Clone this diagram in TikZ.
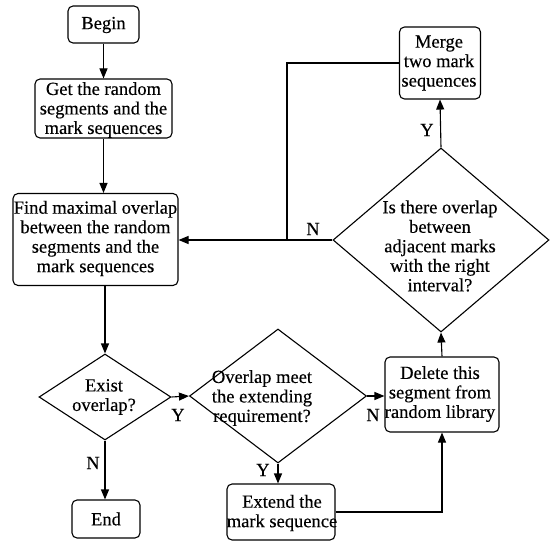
\documentclass[tikz,border=0pt]{standalone}
\usepackage{fontspec}
\setmainfont{Liberation Serif}
\newfontfamily\heavyserif[FakeBold=0.35]{Liberation Serif}
\usetikzlibrary{shapes.geometric,arrows.meta}
\newcommand\myfs{\heavyserif\fontsize{18.5}{19.5}\selectfont}
\begin{document}
\begin{tikzpicture}[x=1pt,y=-1pt,
  box/.style={draw,rounded corners=5pt,inner sep=0pt,line width=1.1pt},
  dia/.style={draw,diamond,inner sep=0pt,line width=1.1pt},
  txt/.style={align=center,inner sep=0pt,font=\myfs},
  arr/.style={-{Triangle[length=10pt,width=8pt]},line width=1.1pt},
  ln/.style={line width=1.1pt},
  lab/.style={font=\myfs,inner sep=0pt}]
\useasboundingbox (0,0) rectangle (558,543);
% boxes
\node[box,minimum width=71pt,minimum height=37pt] (begin) at (103.5,24.5) {};
\node[txt] (begin-t) at (103.5,25) {Begin};
\node[box,minimum width=137pt,minimum height=59pt] (get) at (103.5,108.5) {};
\node[txt] (get-t) at (103.5,110) {Get the random\\segments and the\\mark sequences};
\node[box,minimum width=165pt,minimum height=92pt] (find) at (95.5,239.5) {};
\node[txt] (find-t) at (95.5,238.5) {Find maximal overlap\\between the random\\segments and the\\mark sequences};
\node[dia,minimum width=132pt,minimum height=86pt] (exist) at (105,397) {};
\node[txt] (exist-t) at (104,397) {Exist\\overlap?};
\node[box,minimum width=68pt,minimum height=38pt] (endn) at (106,519) {};
\node[txt] (endn-t) at (106,519) {End};
\node[dia,minimum width=177pt,minimum height=134pt] (over) at (278,396) {};
\node[txt] (over-t) at (262,398) {Overlap meet\\the extending\\requirement?};
\node[box,minimum width=108pt,minimum height=56pt] (extend) at (281,512) {};
\node[txt] (extend-t) at (282,513) {Extend the\\mark sequence};
\node[box,minimum width=114pt,minimum height=75pt] (delete) at (442,394.5) {};
\node[txt] (delete-t) at (440,394) {Delete this\\segment from\\random library};
\node[dia,minimum width=216pt,minimum height=184pt] (big) at (441,240) {};
\node[txt] (big-t) at (440,246) {Is there overlap\\between\\adjacent marks\\with the right\\interval?};
\node[box,minimum width=81pt,minimum height=72pt] (merge) at (440,63) {};
\node[txt] (merge-t) at (439,63) {Merge\\two mark\\sequences};
% connectors
\draw[arr] (begin.south) -- (get.north);
\draw[arr] (get.south) -- (get.south |- find.north);
\draw[arr] (exist.north |- find.south) -- (exist.north);
\draw[arr] (exist.east) -- (over.west);
\node[lab] (y1) at (178,415) {Y};
\draw[arr] (exist.south) -- (exist.south |- endn.north);
\node[lab] (n1) at (93,463) {N};
\draw[arr] (over.south) -- (over.south |- extend.north);
\node[lab] (y2) at (263,470) {Y};
\draw[arr] (over.east) -- (over.east -| delete.west);
\node[lab] (n2) at (373,415) {N};
\draw[arr] (extend.east) -| (delete.south);
\draw[arr] (delete.north) -- (big.south);
\draw[arr] (big.north) -- (merge.south);
\node[lab] (y3) at (427,130) {Y};
\draw[arr] (big.west) -- (big.west -| find.east);
\node[lab] (n3) at (313,229) {N};
\coordinate (j) at (287,240);
\draw[ln] (merge.west) -| (j);
\end{tikzpicture}
\end{document}
